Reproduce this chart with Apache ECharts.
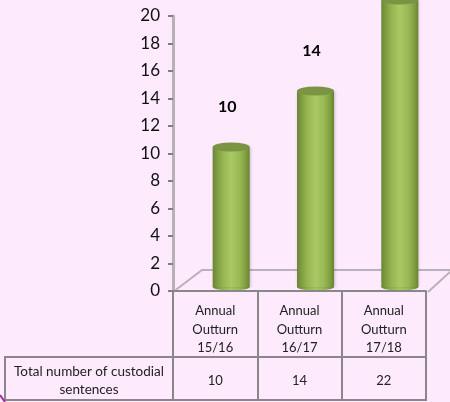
<!DOCTYPE html>
<html><head><meta charset="utf-8">
<script src="https://cdn.jsdelivr.net/npm/echarts@6/dist/echarts.min.js"></script>
<style>html,body{margin:0;padding:0;background:#fdebfd;}#c{width:450px;height:402px;}</style>
</head><body><div id="c"></div>
<script>
var categories = ['Annual Outturn 15/16', 'Annual Outturn 16/17', 'Annual Outturn 17/18'];
var seriesName = 'Total number of custodial sentences';
var values = [10, 14, 22];
var yTicks = [0, 2, 4, 6, 8, 10, 12, 14, 16, 18, 20];

var FONT = 'Lato, "Open Sans", sans-serif';
var barMax = 20.5;
var gridCol = '#8a868a';
var floorCol = '#b9b1b9';

var cyl = {
  type: 'linear', x: 0, y: 0, x2: 1, y2: 0,
  colorStops: [
    {offset: 0, color: '#6a8534'}, {offset: 0.12, color: '#7f9d40'},
    {offset: 0.3, color: '#98b854'}, {offset: 0.5, color: '#a9c964'},
    {offset: 0.72, color: '#9aba56'}, {offset: 0.9, color: '#7f9d40'},
    {offset: 1, color: '#68832f'}
  ]
};

var chart = echarts.init(document.getElementById('c'), null, {renderer: 'canvas'});
chart.setOption({
  backgroundColor: '#fdebfd',
  animation: false,
  grid: [
    {left: 173, right: 24, top: 16, bottom: 111},
    {left: 189, right: 8, top: 0, bottom: 115}
  ],
  xAxis: [
    {
      gridIndex: 0, type: 'category', data: categories, position: 'bottom',
      axisLine: {show: true, lineStyle: {color: gridCol, width: 2}},
      axisTick: {show: true, length: 108, lineStyle: {color: gridCol, width: 2}},
      axisLabel: {
        margin: 11, color: '#222', fontFamily: FONT, fontSize: 13, lineHeight: 18.5,
        formatter: function (v) { return v.split(' ').join('\n'); }
      },
      z: 10
    },
    {
      gridIndex: 0, type: 'category', data: values.map(String), position: 'bottom', offset: 74,
      axisLine: {show: false}, axisTick: {show: false},
      axisLabel: {margin: 8, color: '#222', fontFamily: FONT, fontSize: 13, lineHeight: 16}
    },
    {gridIndex: 1, type: 'category', data: categories, show: false}
  ],
  yAxis: [
    {
      gridIndex: 0, type: 'value', min: yTicks[0], max: yTicks[yTicks.length - 1], interval: 2,
      axisLine: {show: true, lineStyle: {color: floorCol, width: 3}},
      axisTick: {show: true, length: 5, lineStyle: {color: '#7f7f7f', width: 2}},
      axisLabel: {margin: 13, color: '#111', fontFamily: FONT, fontSize: 17},
      splitLine: {show: false}
    },
    {gridIndex: 1, type: 'value', min: 0, max: barMax, show: false, splitLine: {show: false}}
  ],
  graphic: [
    {type: 'polyline', z: 1, shape: {points: [[173, 292], [202, 270], [450, 270]]}, style: {stroke: floorCol, lineWidth: 2, fill: null}},
    {type: 'line', z: 1, shape: {x1: 428, y1: 292, x2: 450, y2: 272}, style: {stroke: floorCol, lineWidth: 2}},
    {type: 'line', z: 20, shape: {x1: 5, y1: 357, x2: 427, y2: 357}, style: {stroke: gridCol, lineWidth: 2}},
    {type: 'line', z: 20, shape: {x1: 5, y1: 400, x2: 427, y2: 400}, style: {stroke: gridCol, lineWidth: 2}},
    {type: 'line', z: 20, shape: {x1: 5, y1: 356, x2: 5, y2: 401}, style: {stroke: gridCol, lineWidth: 2}},
    {type: 'line', z: 20, shape: {x1: 0, y1: 395, x2: 5, y2: 402}, style: {stroke: '#9b2f9b', lineWidth: 2}},
    {type: 'text', z: 20, x: 89, y: 381, style: {
      text: 'Total number of custodial\nsentences', align: 'center', verticalAlign: 'middle',
      font: '13.5px ' + FONT, fill: '#222', lineHeight: 18
    }}
  ],
  series: [
    {
      name: seriesName, type: 'bar', xAxisIndex: 2, yAxisIndex: 1, data: values,
      barWidth: 37, clip: true, z: 3,
      itemStyle: {color: cyl, shadowColor: 'rgba(90,90,90,0.35)', shadowBlur: 3, shadowOffsetX: 1},
      label: {show: true, position: 'top', distance: 30, offset: [-4, -2], color: '#000',
        fontFamily: FONT, fontWeight: 'bold', fontSize: 16}
    },
    {
      type: 'pictorialBar', xAxisIndex: 2, yAxisIndex: 1, z: 4,
      data: values.map(function (v) { return Math.min(v, barMax); }),
      symbol: 'circle', symbolSize: [37, 9], symbolPosition: 'end', symbolOffset: [0, '-50%'],
      itemStyle: {color: '#7b9444'}, clip: true
    },
    {
      type: 'pictorialBar', xAxisIndex: 2, yAxisIndex: 1, z: 2,
      data: values, symbol: 'circle', symbolSize: [37, 7], symbolPosition: 'start', symbolOffset: [0, '50%'],
      itemStyle: {color: cyl}
    }
  ]
});
</script>
</body></html>
